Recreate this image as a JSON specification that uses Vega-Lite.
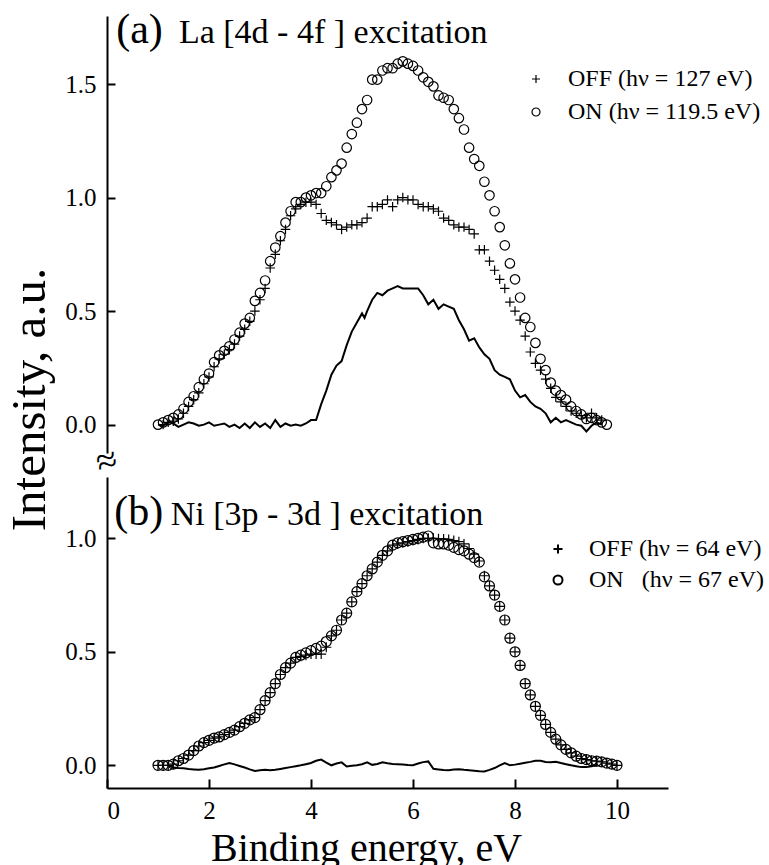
{
  "$schema": "https://vega.github.io/schema/vega-lite/v6.json",
  "background": "white",
  "padding": {"left": 5, "top": 9, "right": 0, "bottom": 0},
  "bounds": "flush",
  "spacing": 24,
  "config": {
    "font": "Liberation Serif",
    "view": {"stroke": null},
    "axis": {
      "grid": false,
      "domainColor": "black",
      "domainWidth": 2,
      "tickColor": "black",
      "tickWidth": 2,
      "tickSize": -8,
      "labelFont": "Liberation Serif",
      "labelFontSize": 25,
      "labelColor": "black",
      "labelPadding": 19,
      "titleFont": "Liberation Serif",
      "titleColor": "black",
      "titleFontWeight": "normal"
    },
    "legend": {
      "labelFont": "Liberation Serif",
      "labelFontSize": 24,
      "labelColor": "black",
      "labelLimit": 0,
      "padding": 0,
      "symbolStrokeColor": "black",
      "symbolFillColor": "transparent",
      "symbolStrokeWidth": 1.2
    }
  },
  "datasets": {
    "top": [
      {"x":1.0,"on":0.0,"d":0.0},
      {"x":1.1,"on":0.01,"off":0.0,"d":-0.005},
      {"x":1.2,"on":0.02,"off":0.01,"d":0.01},
      {"x":1.3,"on":0.03,"off":0.015,"d":0.005},
      {"x":1.4,"on":0.045,"off":0.025,"d":-0.01},
      {"x":1.5,"on":0.07,"off":0.05,"d":0.0},
      {"x":1.6,"on":0.10,"off":0.08,"d":0.01},
      {"x":1.7,"on":0.125,"off":0.11,"d":0.005},
      {"x":1.8,"on":0.165,"off":0.14,"d":-0.005},
      {"x":1.9,"on":0.20,"off":0.18,"d":0.0},
      {"x":2.0,"on":0.225,"off":0.21,"d":0.01},
      {"x":2.1,"on":0.275,"off":0.255,"d":-0.005},
      {"x":2.2,"on":0.305,"off":0.29,"d":0.0},
      {"x":2.3,"on":0.325,"off":0.31,"d":0.005},
      {"x":2.4,"on":0.345,"off":0.33,"d":-0.01},
      {"x":2.5,"on":0.375,"off":0.355,"d":0.0},
      {"x":2.6,"on":0.405,"off":0.39,"d":-0.015},
      {"x":2.7,"on":0.445,"off":0.42,"d":0.005},
      {"x":2.8,"on":0.47,"off":0.455,"d":-0.015},
      {"x":2.9,"on":0.545,"off":0.50,"d":0.01},
      {"x":3.0,"on":0.58,"off":0.55,"d":-0.01},
      {"x":3.1,"on":0.635,"off":0.60,"d":0.005},
      {"x":3.2,"on":0.72,"off":0.69,"d":-0.015},
      {"x":3.3,"on":0.78,"off":0.75,"d":0.02},
      {"x":3.4,"on":0.83,"off":0.81,"d":-0.01},
      {"x":3.5,"on":0.89,"off":0.86,"d":0.005},
      {"x":3.6,"on":0.94,"off":0.92,"d":-0.005},
      {"x":3.7,"on":0.98,"off":0.95,"d":0.0},
      {"x":3.8,"on":0.98,"off":0.97,"d":-0.005},
      {"x":3.9,"on":1.00,"off":0.98,"d":0.005},
      {"x":4.0,"on":1.01,"off":0.98,"d":0.02},
      {"x":4.1,"on":1.02,"off":0.97,"d":0.02},
      {"x":4.2,"on":1.02,"off":0.93,"d":0.09},
      {"x":4.3,"on":1.05,"off":0.90,"d":0.15},
      {"x":4.4,"on":1.09,"off":0.89,"d":0.22},
      {"x":4.5,"on":1.12,"off":0.88,"d":0.26},
      {"x":4.6,"on":1.15,"off":0.86,"d":0.28},
      {"x":4.7,"on":1.22,"off":0.87,"d":0.35},
      {"x":4.8,"on":1.28,"off":0.88,"d":0.41},
      {"x":4.9,"on":1.33,"off":0.88,"d":0.45},
      {"x":5.0,"on":1.39,"off":0.89,"d":0.49},
      {"x":5.05,"d":0.47},
      {"x":5.1,"on":1.43,"off":0.91,"d":0.50},
      {"x":5.2,"on":1.52,"off":0.96,"d":0.55},
      {"x":5.3,"on":1.52,"off":0.96,"d":0.58},
      {"x":5.4,"on":1.56,"off":0.97,"d":0.57},
      {"x":5.5,"on":1.57,"off":0.99,"d":0.59},
      {"x":5.6,"on":1.57,"off":0.96,"d":0.60},
      {"x":5.7,"on":1.59,"off":0.99,"d":0.61},
      {"x":5.8,"on":1.60,"off":1.00,"d":0.60},
      {"x":5.9,"on":1.59,"off":0.99,"d":0.60},
      {"x":6.0,"on":1.58,"off":0.99,"d":0.60},
      {"x":6.1,"on":1.56,"off":0.97,"d":0.60},
      {"x":6.2,"on":1.53,"off":0.96,"d":0.57},
      {"x":6.3,"on":1.51,"off":0.96,"d":0.53},
      {"x":6.4,"on":1.49,"off":0.95,"d":0.55},
      {"x":6.5,"on":1.45,"off":0.94,"d":0.51},
      {"x":6.6,"on":1.44,"off":0.91,"d":0.53},
      {"x":6.7,"on":1.43,"off":0.90,"d":0.52},
      {"x":6.8,"on":1.39,"off":0.88,"d":0.51},
      {"x":6.9,"on":1.35,"off":0.87,"d":0.46},
      {"x":7.0,"on":1.30,"off":0.87,"d":0.42},
      {"x":7.1,"on":1.22,"off":0.86,"d":0.37},
      {"x":7.2,"on":1.17,"off":0.84,"d":0.38},
      {"x":7.3,"on":1.14,"off":0.77,"d":0.34},
      {"x":7.4,"on":1.07,"off":0.77,"d":0.31},
      {"x":7.5,"on":1.01,"off":0.72,"d":0.29},
      {"x":7.6,"on":0.94,"off":0.68,"d":0.24},
      {"x":7.7,"on":0.87,"off":0.64,"d":0.22},
      {"x":7.8,"on":0.79,"off":0.60,"d":0.21},
      {"x":7.9,"on":0.71,"off":0.54,"d":0.20},
      {"x":8.0,"on":0.64,"off":0.50,"d":0.15},
      {"x":8.1,"on":0.56,"off":0.46,"d":0.12},
      {"x":8.2,"on":0.47,"off":0.39,"d":0.13},
      {"x":8.3,"on":0.43,"off":0.32,"d":0.10},
      {"x":8.4,"on":0.36,"off":0.27,"d":0.08},
      {"x":8.5,"on":0.29,"off":0.24,"d":0.07},
      {"x":8.6,"on":0.24,"off":0.20,"d":0.05},
      {"x":8.7,"on":0.185,"off":0.16,"d":0.01},
      {"x":8.8,"on":0.15,"off":0.12,"d":0.03},
      {"x":8.9,"on":0.13,"off":0.10,"d":0.01},
      {"x":9.0,"on":0.11,"off":0.08,"d":0.02},
      {"x":9.1,"on":0.08,"off":0.06,"d":0.01},
      {"x":9.2,"on":0.06,"off":0.05,"d":0.0},
      {"x":9.3,"on":0.045,"off":0.04,"d":-0.005},
      {"x":9.4,"on":0.025,"off":0.03,"d":-0.03},
      {"x":9.5,"on":0.03,"off":0.05,"d":-0.005},
      {"x":9.6,"on":0.02,"off":0.03,"d":0.01},
      {"x":9.7,"on":0.01,"off":0.02,"d":0.0},
      {"x":9.8,"on":0.0}
    ],
    "bottom": [
      {"x":1.0,"on":0.0,"off":0.0},
      {"x":1.1,"on":0.0,"off":0.0},
      {"x":1.2,"on":0.0,"off":0.0,"d":0.0},
      {"x":1.3,"on":0.005,"off":0.005,"d":-0.01},
      {"x":1.4,"on":0.02,"off":0.02,"d":-0.012},
      {"x":1.5,"on":0.03,"off":0.03,"d":-0.013},
      {"x":1.6,"on":0.045,"off":0.045,"d":-0.016},
      {"x":1.7,"on":0.065,"off":0.065,"d":-0.018},
      {"x":1.8,"on":0.085,"off":0.085,"d":-0.02},
      {"x":1.9,"on":0.10,"off":0.10,"d":-0.017},
      {"x":2.0,"on":0.11,"off":0.11,"d":-0.013},
      {"x":2.1,"on":0.12,"off":0.12,"d":-0.01},
      {"x":2.2,"on":0.125,"off":0.125,"d":-0.003},
      {"x":2.3,"on":0.135,"off":0.135,"d":0.004},
      {"x":2.4,"on":0.145,"off":0.145,"d":0.01},
      {"x":2.5,"on":0.155,"off":0.155,"d":0.004},
      {"x":2.6,"on":0.17,"off":0.17,"d":-0.003},
      {"x":2.7,"on":0.185,"off":0.185,"d":-0.01},
      {"x":2.8,"on":0.20,"off":0.20,"d":-0.018},
      {"x":2.9,"on":0.21,"off":0.21,"d":-0.025},
      {"x":3.0,"on":0.245,"off":0.245,"d":-0.022},
      {"x":3.1,"on":0.285,"off":0.285,"d":-0.02},
      {"x":3.2,"on":0.32,"off":0.32,"d":-0.022},
      {"x":3.3,"on":0.36,"off":0.36,"d":-0.02},
      {"x":3.4,"on":0.40,"off":0.40,"d":-0.016},
      {"x":3.5,"on":0.43,"off":0.43,"d":-0.012},
      {"x":3.6,"on":0.45,"off":0.45,"d":-0.008},
      {"x":3.7,"on":0.475,"off":0.475,"d":-0.004},
      {"x":3.8,"on":0.485,"off":0.48,"d":0.0},
      {"x":3.9,"on":0.495,"off":0.485,"d":0.005},
      {"x":4.0,"on":0.505,"off":0.49,"d":0.01},
      {"x":4.1,"on":0.515,"off":0.49,"d":0.02},
      {"x":4.2,"on":0.525,"off":0.49,"d":0.025},
      {"x":4.3,"on":0.545,"off":0.52,"d":0.012},
      {"x":4.4,"on":0.57,"off":0.57,"d":0.0},
      {"x":4.5,"on":0.595,"off":0.595,"d":0.008},
      {"x":4.6,"on":0.64,"off":0.64,"d":0.013},
      {"x":4.7,"on":0.67,"off":0.67,"d":-0.005},
      {"x":4.8,"on":0.72,"off":0.72,"d":-0.002},
      {"x":4.9,"on":0.765,"off":0.765,"d":0.0},
      {"x":5.0,"on":0.80,"off":0.80,"d":0.005},
      {"x":5.1,"on":0.835,"off":0.835,"d":0.013},
      {"x":5.2,"on":0.865,"off":0.865,"d":0.002},
      {"x":5.3,"on":0.895,"off":0.895,"d":0.006},
      {"x":5.4,"on":0.925,"off":0.925,"d":0.013},
      {"x":5.5,"on":0.945,"off":0.945,"d":0.009},
      {"x":5.6,"on":0.97,"off":0.97,"d":0.006},
      {"x":5.7,"on":0.98,"off":0.975,"d":0.005},
      {"x":5.8,"on":0.985,"off":0.98,"d":0.003},
      {"x":5.9,"on":0.99,"off":0.985,"d":0.001},
      {"x":6.0,"on":0.995,"off":0.99,"d":0.0},
      {"x":6.1,"on":1.0,"off":0.995,"d":0.008},
      {"x":6.2,"on":1.005,"off":1.0,"d":0.014},
      {"x":6.3,"on":1.01,"off":1.0,"d":0.017},
      {"x":6.4,"on":0.98,"off":1.0,"d":-0.015},
      {"x":6.5,"on":0.975,"off":0.998,"d":-0.018},
      {"x":6.6,"on":0.975,"off":0.997,"d":-0.021},
      {"x":6.7,"on":0.97,"off":0.995,"d":-0.022},
      {"x":6.8,"on":0.96,"off":0.99,"d":-0.019},
      {"x":6.9,"on":0.95,"off":0.985,"d":-0.017},
      {"x":7.0,"on":0.945,"off":0.975,"d":-0.02},
      {"x":7.1,"on":0.93,"off":0.955,"d":-0.022},
      {"x":7.2,"on":0.915,"off":0.93,"d":-0.024},
      {"x":7.3,"on":0.895,"off":0.9,"d":-0.026},
      {"x":7.4,"on":0.83,"off":0.835,"d":-0.027},
      {"x":7.5,"on":0.79,"off":0.79,"d":-0.02},
      {"x":7.6,"on":0.75,"off":0.75,"d":-0.012},
      {"x":7.7,"on":0.70,"off":0.70,"d":0.0},
      {"x":7.8,"on":0.64,"off":0.64,"d":0.01},
      {"x":7.9,"on":0.56,"off":0.56,"d":0.0},
      {"x":8.0,"on":0.50,"off":0.50,"d":0.003},
      {"x":8.1,"on":0.44,"off":0.44,"d":0.007},
      {"x":8.2,"on":0.36,"off":0.36,"d":0.011},
      {"x":8.3,"on":0.31,"off":0.31,"d":0.015},
      {"x":8.4,"on":0.26,"off":0.26,"d":0.02},
      {"x":8.5,"on":0.22,"off":0.22,"d":0.02},
      {"x":8.6,"on":0.18,"off":0.18,"d":0.015},
      {"x":8.7,"on":0.145,"off":0.145,"d":0.013},
      {"x":8.8,"on":0.115,"off":0.115,"d":0.016},
      {"x":8.9,"on":0.09,"off":0.09,"d":0.01},
      {"x":9.0,"on":0.07,"off":0.07,"d":0.005},
      {"x":9.1,"on":0.055,"off":0.055,"d":0.0},
      {"x":9.2,"on":0.04,"off":0.04,"d":-0.004},
      {"x":9.3,"on":0.03,"off":0.03,"d":-0.008},
      {"x":9.4,"on":0.025,"off":0.025,"d":-0.008},
      {"x":9.5,"on":0.02,"off":0.02,"d":-0.004},
      {"x":9.6,"on":0.018,"off":0.018,"d":0.0},
      {"x":9.7,"on":0.015,"off":0.015},
      {"x":9.8,"on":0.01,"off":0.01},
      {"x":9.9,"on":0.005,"off":0.005},
      {"x":10.0,"on":0.0,"off":0.0}
    ]
  },
  "resolve": {"scale": {"shape": "independent"}, "legend": {"shape": "independent"}},
  "vconcat": [
    {
      "width": 561,
      "height": 437,
      "layer": [
        {
          "data": {"name": "top"},
          "transform": [{"fold": ["off", "on", "d"], "as": ["s", "v"]}],
          "encoding": {
            "x": {"field": "x", "type": "quantitative", "scale": {"domain": [0, 11], "nice": false, "zero": false}, "axis": null},
            "y": {"field": "v", "type": "quantitative", "scale": {"domain": [-0.125, 1.8], "nice": false, "zero": false},
              "axis": {"values": [0, 0.5, 1, 1.5], "format": ".1f", "labelFont": "Liberation Serif", "title": "Intensity, a.u.", "titleFontSize": 49, "titleX": -63, "titleY": 383, "titleAngle": -90, "titleAlign": "center", "titleBaseline": "alphabetic"}}
          },
          "layer": [
            {
              "transform": [{"filter": "datum.s != 'd'"}],
              "mark": {"type": "point", "filled": false, "stroke": "black", "strokeWidth": 1.2, "size": 90, "opacity": 1},
              "encoding": {
                "shape": {"field": "s", "type": "nominal",
                  "scale": {"domain": ["off", "on"], "range": ["M-1,0H1M0,-1V1", "circle"]},
                  "legend": {"title": null, "orient": "none", "legendX": 417, "legendY": 51, "symbolSize": 64, "labelOffset": 20, "rowPadding": 9, "labelFont": "Liberation Serif", "labelLimit": 0,
                    "labelExpr": "datum.value == 'off' ? 'OFF (hν = 127 eV)' : 'ON (hν = 119.5 eV)'"}}
              }
            },
            {
              "transform": [{"filter": "datum.s == 'd'"}],
              "mark": {"type": "line", "color": "black", "strokeWidth": 2},
              "encoding": {}
            }
          ]
        },
        {
          "data": {"values": [{}]},
          "mark": {"type": "text", "text": "(a)", "fontSize": 42, "align": "left", "baseline": "alphabetic", "color": "black", "font": "Liberation Serif"},
          "encoding": {"x": {"datum": 0.18, "type": "quantitative"}, "y": {"datum": 1.68, "type": "quantitative"}}
        },
        {
          "data": {"values": [{}]},
          "mark": {"type": "text", "text": "La [4d - 4f ] excitation", "fontSize": 34, "align": "left", "baseline": "alphabetic", "color": "black", "font": "Liberation Serif"},
          "encoding": {"x": {"datum": 1.41, "type": "quantitative"}, "y": {"datum": 1.68, "type": "quantitative"}}
        },
        {
          "data": {"values": [{}]},
          "mark": {"type": "text", "text": "≈", "fontSize": 38, "align": "center", "baseline": "middle", "angle": -15, "color": "black", "font": "Liberation Serif"},
          "encoding": {"x": {"datum": 0, "type": "quantitative"}, "y": {"datum": -0.165, "type": "quantitative"}}
        }
      ]
    },
    {
      "width": 561,
      "height": 311,
      "layer": [
        {
          "data": {"name": "bottom"},
          "transform": [{"fold": ["off", "on", "d"], "as": ["s", "v"]}],
          "encoding": {
            "x": {"field": "x", "type": "quantitative", "scale": {"domain": [0, 11], "nice": false, "zero": false},
              "axis": {"values": [0, 2, 4, 6, 8, 10], "tickSize": -9, "labelPadding": 19, "labelFont": "Liberation Serif", "title": "Binding energy, eV", "titleFontSize": 40, "titleX": 259, "titleY": 72, "titleAlign": "center", "titleBaseline": "alphabetic"}},
            "y": {"field": "v", "type": "quantitative", "scale": {"domain": [-0.1, 1.27], "nice": false, "zero": false},
              "axis": {"values": [0, 0.5, 1], "format": ".1f", "labelFont": "Liberation Serif", "title": null}}
          },
          "layer": [
            {
              "transform": [{"filter": "datum.s != 'd'"}],
              "mark": {"type": "point", "filled": false, "stroke": "black", "strokeWidth": 1.2, "size": 100, "opacity": 1},
              "encoding": {
                "shape": {"field": "s", "type": "nominal",
                  "scale": {"domain": ["off", "on"], "range": ["M-1,0H1M0,-1V1", "circle"]},
                  "legend": {"title": null, "orient": "none", "legendX": 439, "legendY": 60, "symbolSize": 81, "symbolStrokeWidth": 2, "labelOffset": 19, "rowPadding": 7, "labelFont": "Liberation Serif", "labelLimit": 0,
                    "labelExpr": "datum.value == 'off' ? 'OFF (hν = 64 eV)' : 'ON\u00a0\u00a0\u00a0(hν = 67 eV)'"}}
              }
            },
            {
              "transform": [{"filter": "datum.s == 'd'"}],
              "mark": {"type": "line", "color": "black", "strokeWidth": 2},
              "encoding": {}
            }
          ]
        },
        {
          "data": {"values": [{}]},
          "mark": {"type": "text", "text": "(b)", "fontSize": 42, "align": "left", "baseline": "alphabetic", "color": "black", "font": "Liberation Serif"},
          "encoding": {"x": {"datum": 0.14, "type": "quantitative"}, "y": {"datum": 1.057, "type": "quantitative"}}
        },
        {
          "data": {"values": [{}]},
          "mark": {"type": "text", "text": "Ni [3p - 3d ] excitation", "fontSize": 34, "align": "left", "baseline": "alphabetic", "color": "black", "font": "Liberation Serif"},
          "encoding": {"x": {"datum": 1.25, "type": "quantitative"}, "y": {"datum": 1.057, "type": "quantitative"}}
        }
      ]
    }
  ]
}
